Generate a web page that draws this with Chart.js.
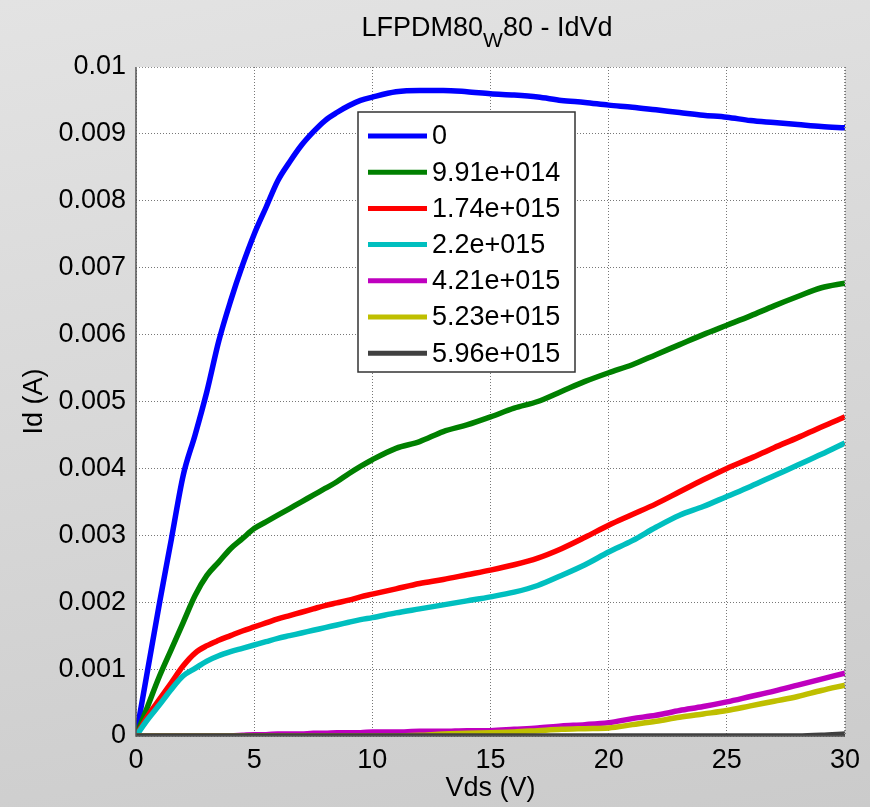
<!DOCTYPE html>
<html>
<head>
<meta charset="utf-8">
<script src="https://cdn.jsdelivr.net/npm/chart.js@4/dist/chart.umd.min.js"></script>
<style>
  body { margin: 0; background: linear-gradient(170deg, #e3e3e3, #cbcbcb); width: 870px; height: 807px; overflow: hidden; }
  #wrap { width: 870px; height: 807px; }
</style>
</head>
<body>
<div id="wrap"><canvas id="myChart" width="870" height="807"></canvas></div>
<script>
var vds = [0, 0.5, 1, 1.5, 2, 2.5, 3, 3.5, 4, 4.5, 5, 5.5, 6, 6.5, 7, 7.5, 8, 8.5, 9, 9.5, 10,
    11, 12, 13, 14, 15, 16, 17, 18, 19, 20, 21, 22, 23, 24, 25, 26, 27, 28, 29, 30];

var names = ['0', '9.91e+014', '1.74e+015', '2.2e+015', '4.21e+015', '5.23e+015', '5.96e+015'];
var colors = ['#0000ff', '#008000', '#ff0000', '#00bfbf', '#bf00bf', '#bfbf00', '#404040'];

var id0 = [0, 0.001, 0.002, 0.00295, 0.0039, 0.0045, 0.00515, 0.0059, 0.0065, 0.00703, 0.0075, 0.0079, 0.0083, 0.00858, 0.00883, 0.00903, 0.0092, 0.00932, 0.00942, 0.0095, 0.00955,
    0.00963, 0.00965, 0.00965, 0.00963, 0.0096, 0.00958, 0.00955, 0.0095, 0.00947, 0.00943, 0.0094, 0.00936, 0.00932, 0.00928, 0.00925, 0.0092, 0.00917, 0.00914, 0.00911, 0.00909];
var id1 = [0, 0.00045, 0.0009, 0.0013, 0.0017, 0.0021, 0.0024, 0.0026, 0.0028, 0.00295, 0.0031, 0.0032, 0.0033, 0.0034, 0.0035, 0.0036, 0.0037, 0.0038, 0.00392, 0.00403, 0.00413,
    0.0043, 0.0044, 0.00455, 0.00465, 0.00477, 0.0049, 0.005, 0.00515, 0.0053, 0.00543, 0.00555, 0.0057, 0.00585, 0.006, 0.00614, 0.00628, 0.00643, 0.00657, 0.0067, 0.00677];
var id2 = [0, 0.0003, 0.00055, 0.0008, 0.00105, 0.00124, 0.00135, 0.00143, 0.0015, 0.00157, 0.00163, 0.00169, 0.00175, 0.0018, 0.00185, 0.0019, 0.00195, 0.00199, 0.00203, 0.00208, 0.00212,
    0.0022, 0.00228, 0.00234, 0.00241, 0.00248, 0.00256, 0.00266, 0.0028, 0.00297, 0.00315, 0.00331, 0.00347, 0.00365, 0.00383, 0.004, 0.00415, 0.00431, 0.00446, 0.00462, 0.00477];
var id3 = [0, 0.00025, 0.00047, 0.0007, 0.0009, 0.00101, 0.00112, 0.0012, 0.00126, 0.00131, 0.00136, 0.00141, 0.00146, 0.0015, 0.00154, 0.00158, 0.00162, 0.00166, 0.0017, 0.00174, 0.00177,
    0.00184, 0.0019, 0.00196, 0.00202, 0.00208, 0.00215, 0.00225, 0.0024, 0.00256, 0.00275, 0.00292, 0.00312, 0.0033, 0.00343, 0.00358, 0.00373, 0.00389, 0.00405, 0.00421, 0.00438];
var id4 = [0, 0, 0, 0, 0, 0, 0, 0, 0, 0.00001, 0.00002, 0.00002, 0.00003, 0.00003, 0.00003, 0.00004, 0.00004, 0.00005, 0.00005, 0.00005, 0.00006,
    0.00006, 0.00007, 0.00007, 0.00008, 0.00008, 0.0001, 0.00012, 0.00015, 0.00017, 0.0002, 0.00026, 0.00031, 0.00038, 0.00044, 0.00051, 0.00059, 0.00067, 0.00076, 0.00085, 0.00094];
var id5 = [0, 0, 0, 0, 0, 0, 0, 0, 0, 0, 0, 0, 0, 0, 0, 0, 0, 0, 0, 0, 0,
    0, 0.00001, 0.00003, 0.00004, 0.00005, 0.00006, 0.00008, 0.0001, 0.00011, 0.00012, 0.00017, 0.00022, 0.00028, 0.00033, 0.00038, 0.00045, 0.00052, 0.00059, 0.00068, 0.00076];
var id6 = [0, 0, 0, 0, 0, 0, 0, 0, 0, 0, 0, 0, 0, 0, 0, 0, 0, 0, 0, 0, 0,
    0, 0, 0, 0, 0, 0, 0, 0, 0, 0, 0, 0, 0, 0, 0, 0, 0, 0, 0.00001, 0.00003];

var allIds = [id0, id1, id2, id3, id4, id5, id6];
var FONT = '"Liberation Sans", Arial, Helvetica, sans-serif';

function points(ys) {
    return vds.map(function (x, i) { return { x: x, y: ys[i] }; });
}

var datasets = allIds.map(function (ys, i) {
    return {
        label: names[i],
        data: points(ys),
        borderColor: colors[i],
        backgroundColor: colors[i],
        borderWidth: 5.5,
        pointRadius: 0,
        cubicInterpolationMode: 'monotone',
        fill: false,
        order: names.length - i
    };
});

// white axes area and the box around it
var plotBg = {
    id: 'plotBg',
    beforeDraw: function (chart) {
        var a = chart.chartArea, c = chart.ctx;
        c.save();
        c.fillStyle = '#ffffff';
        c.fillRect(a.left, a.top, a.right - a.left, a.bottom - a.top);
        c.restore();
    },
    afterDatasetsDraw: function (chart) {
        var a = chart.chartArea, c = chart.ctx;
        c.save();
        c.strokeStyle = '#555';
        c.lineWidth = 1.5;
        c.beginPath();
        c.moveTo(a.left, a.top);
        c.lineTo(a.left, a.bottom);
        c.lineTo(a.right, a.bottom);
        c.stroke();
        c.strokeStyle = '#888';
        c.lineWidth = 1;
        c.setLineDash([1, 2]);
        c.beginPath();
        c.moveTo(a.left, a.top + 0.5);
        c.lineTo(a.right - 0.5, a.top + 0.5);
        c.lineTo(a.right - 0.5, a.bottom);
        c.stroke();
        c.restore();
    }
};

// title with subscript
var titlePlug = {
    id: 'titlePlug',
    afterDraw: function (chart) {
        var c = chart.ctx;
        c.save();
        c.fillStyle = '#000';
        c.textBaseline = 'alphabetic';
        var big = '27px ' + FONT, small = '21px ' + FONT;
        var p1 = 'LFPDM80', p2 = 'W', p3 = '80 - IdVd';
        c.font = big;
        var w1 = c.measureText(p1).width, w3 = c.measureText(p3).width;
        c.font = small;
        var w2 = c.measureText(p2).width;
        var x = 487 - (w1 + w2 + w3) / 2, y = 36;
        c.font = big; c.fillText(p1, x, y);
        c.font = small; c.fillText(p2, x + w1, y + 11);
        c.font = big; c.fillText(p3, x + w1 + w2, y);
        c.restore();
    }
};

// legend box inside the axes
var legendBox = {
    id: 'legendBox',
    afterDraw: function (chart) {
        var c = chart.ctx;
        var bx = 358, by = 112, bw = 217, bh = 260;
        c.save();
        c.fillStyle = '#fff';
        c.fillRect(bx, by, bw, bh);
        c.strokeStyle = '#333';
        c.lineWidth = 1.5;
        c.strokeRect(bx, by, bw, bh);
        c.font = '27px ' + FONT;
        c.textBaseline = 'middle';
        chart.data.datasets.forEach(function (ds, i) {
            var yy = by + 24 + i * 36.2;
            c.strokeStyle = ds.borderColor;
            c.lineWidth = 5;
            c.beginPath();
            c.moveTo(368, yy);
            c.lineTo(427, yy);
            c.stroke();
            c.fillStyle = '#000';
            c.fillText(ds.label, 432, yy + 1);
        });
        c.restore();
    }
};

var ctx = document.getElementById('myChart').getContext('2d');

var config = {
    type: 'line',
    data: { datasets: datasets },
    options: {
        responsive: false,
        animation: false,
        layout: { padding: { left: 0, right: 25, top: 67, bottom: 0 } },
        plugins: {
            legend: { display: false },
            tooltip: { enabled: false },
            title: { display: false }
        },
        scales: {
            x: {
                type: 'linear',
                min: 0,
                max: 30,
                afterFit: function (s) { s.height = 71; },
                border: { display: false, dash: [1, 2] },
                grid: { color: '#777', lineWidth: 1, drawTicks: false },
                ticks: { stepSize: 5, color: '#000', padding: 8, font: { family: FONT, size: 27 }, maxRotation: 0 },
                title: { display: true, text: 'Vds (V)', color: '#000', font: { family: FONT, size: 27 }, padding: { top: 0, bottom: 2 } }
            },
            y: {
                min: 0,
                max: 0.01,
                afterFit: function (s) { s.width = 136; },
                border: { display: false, dash: [1, 2] },
                grid: { color: '#777', lineWidth: 1, drawTicks: false },
                ticks: {
                    stepSize: 0.001,
                    color: '#000',
                    padding: 10,
                    font: { family: FONT, size: 27 },
                    callback: function (v) { return String(+v.toFixed(4)); }
                },
                title: { display: true, text: 'Id (A)', color: '#000', font: { family: FONT, size: 27 }, padding: { top: 18, bottom: 0 } }
            }
        }
    },
    plugins: [plotBg, titlePlug, legendBox]
};

var myChart = new Chart(ctx, config);
</script>
</body>
</html>
